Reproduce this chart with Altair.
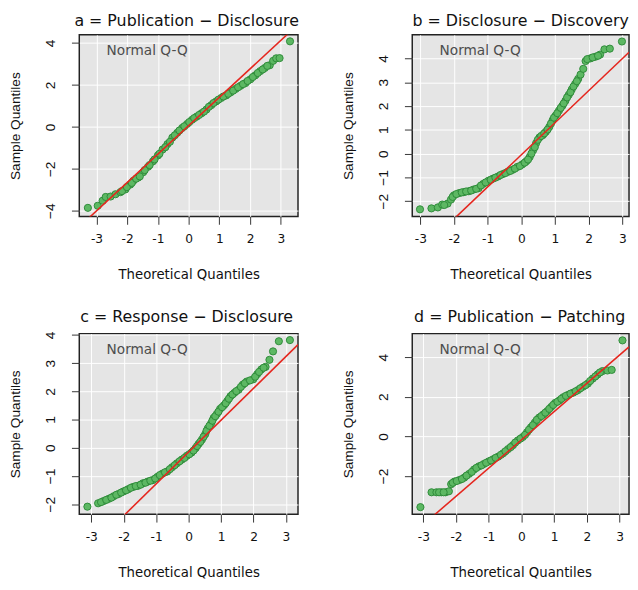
import altair as alt
import pandas as pd

# ---------------- data ----------------
TITLES = [
    "a = Publication \u2212 Disclosure",
    "b = Disclosure \u2212 Discovery",
    "c = Response \u2212 Disclosure",
    "d = Publication \u2212 Patching",
]
X_TITLE = "Theoretical Quantiles"
Y_TITLE = "Sample Quantiles"
INSET_LABEL = "Normal Q-Q"

# panel a
A_X = [-3.28, -2.96, -2.80, -2.70, -2.54, -2.38, -2.22, -2.06, -1.90, -1.80, -1.64, -1.48,
       -1.32, -1.16, -1.00, -0.85, -0.69, -0.53, -0.37, -0.21, -0.05, 0.11, 0.26, 0.42,
       0.58, 0.74, 0.90, 1.06, 1.22, 1.37, 1.53, 1.69, 1.85, 2.01, 2.17, 2.33, 2.48,
       2.64, 2.75, 2.85, 2.96, 3.30]
A_Y = [-3.86, -3.76, -3.52, -3.34, -3.32, -3.21, -3.11, -2.98, -2.75, -2.57, -2.41, -2.16,
       -1.90, -1.64, -1.36, -1.08, -0.82, -0.51, -0.28, -0.05, 0.14, 0.34, 0.49, 0.65,
       0.83, 1.04, 1.22, 1.38, 1.50, 1.65, 1.81, 1.96, 2.09, 2.27, 2.46, 2.66, 2.81,
       2.94, 3.15, 3.27, 3.28, 4.08]
A_BAND_X = [-2.17, -2.01, -1.85, -1.71, -1.59, -1.43, -1.27, -1.11, -0.95, -0.76, -0.61,
            -0.45, -0.30, -0.14, 0.02, 0.18, 0.34, 0.50, 0.66, 0.81, 0.97, 1.13, 1.29,
            1.45, 1.61, 1.77, 1.92, 2.09, 2.25, 2.41, 2.56]
A_BAND_Y = [-3.06, -2.87, -2.67, -2.47, -2.36, -2.06, -1.82, -1.55, -1.28, -0.97, -0.71,
            -0.40, -0.17, 0.03, 0.23, 0.42, 0.57, 0.73, 0.96, 1.14, 1.30, 1.45, 1.58,
            1.73, 1.89, 2.04, 2.19, 2.38, 2.57, 2.74, 2.91]

# panel b
B_X = [-3.01, -2.67, -2.48, -2.35, -2.19, -2.09, -2.00, -1.85, -1.71, -1.56, -1.42, -1.27,
       -1.13, -0.98, -0.84, -0.69, -0.55, -0.41, -0.26, -0.12, 0.03, 0.15, 0.25, 0.35,
       0.44, 0.54, 0.64, 0.73, 0.83, 0.93, 1.02, 1.12, 1.22, 1.31, 1.41, 1.50, 1.60,
       1.69, 1.76, 1.84, 1.91, 2.05, 2.20, 2.34, 2.47, 2.63, 2.99]
B_Y = [-2.34, -2.30, -2.26, -2.14, -2.10, -1.93, -1.75, -1.66, -1.62, -1.58, -1.51, -1.45,
       -1.27, -1.14, -1.05, -0.96, -0.86, -0.77, -0.68, -0.56, -0.45, -0.32, -0.14, 0.14,
       0.44, 0.68, 0.78, 0.92, 1.12, 1.40, 1.60, 1.81, 2.01, 2.22, 2.47, 2.70, 2.93,
       3.14, 3.32, 3.56, 3.89, 4.00, 4.07, 4.16, 4.38, 4.41, 4.71]
B_BAND_X = [-2.29, -2.04, -1.93, -1.77, -1.64, -1.49, -1.34, -1.20, -1.06, -0.91, -0.77,
            -0.62, -0.48, -0.33, -0.19, -0.04, 0.10, 0.20, 0.30, 0.40, 0.49, 0.59, 0.68,
            0.78, 0.88, 0.97, 1.07, 1.17, 1.26, 1.36, 1.46, 1.55, 1.65, 1.96, 2.12, 2.28]
B_BAND_Y = [-2.16, -1.82, -1.70, -1.63, -1.59, -1.55, -1.48, -1.34, -1.21, -1.10, -1.01,
            -0.90, -0.82, -0.73, -0.63, -0.52, -0.38, -0.25, 0.00, 0.27, 0.58, 0.74, 0.85,
            1.01, 1.26, 1.51, 1.70, 1.92, 2.11, 2.36, 2.58, 2.82, 3.04, 3.97, 4.04, 4.11]

# panel c
C_X = [-3.12, -2.79, -2.62, -2.46, -2.31, -2.16, -2.01, -1.86, -1.71, -1.56, -1.41, -1.26,
       -1.11, -0.96, -0.81, -0.66, -0.51, -0.36, -0.21, -0.06, 0.09, 0.21, 0.31, 0.41,
       0.51, 0.59, 0.69, 0.77, 0.87, 0.97, 1.09, 1.19, 1.29, 1.41, 1.54, 1.67, 1.79,
       1.99, 2.11, 2.24, 2.37, 2.49, 2.60, 2.78, 3.12]
C_Y = [-2.09, -1.97, -1.89, -1.81, -1.72, -1.64, -1.55, -1.47, -1.39, -1.35, -1.26, -1.20,
       -1.15, -1.03, -0.92, -0.84, -0.69, -0.55, -0.42, -0.29, -0.17, -0.02, 0.14, 0.29,
       0.48, 0.69, 0.86, 1.06, 1.20, 1.38, 1.51, 1.66, 1.83, 1.95, 2.06, 2.24, 2.35,
       2.43, 2.61, 2.78, 2.87, 3.12, 3.42, 3.78, 3.82]
C_BAND_X = [-2.70, -2.54, -2.38, -2.23, -2.08, -1.93, -1.78, -1.63, -1.48, -1.33, -1.18,
            -1.03, -0.89, -0.73, -0.58, -0.43, -0.28, -0.13, 0.02, 0.15, 0.26, 0.36, 0.46,
            0.55, 0.64, 0.73, 0.82, 0.92, 1.03, 1.14, 1.24, 1.35, 1.47, 1.61, 1.73, 1.89,
            2.05, 2.17, 2.31]
C_BAND_Y = [-1.93, -1.85, -1.77, -1.67, -1.59, -1.51, -1.42, -1.36, -1.31, -1.24, -1.17,
            -1.09, -0.97, -0.87, -0.76, -0.62, -0.48, -0.36, -0.23, -0.10, 0.06, 0.21, 0.39,
            0.60, 0.78, 0.96, 1.12, 1.28, 1.44, 1.58, 1.74, 1.89, 2.01, 2.16, 2.29, 2.39,
            2.52, 2.69, 2.84]

# panel d
D_X = [-3.09, -2.75, -2.60, -2.45, -2.32, -2.22, -2.15, -2.05, -1.90, -1.75, -1.60, -1.45,
       -1.30, -1.15, -1.00, -0.86, -0.71, -0.56, -0.41, -0.26, -0.11, 0.04, 0.17, 0.29,
       0.41, 0.54, 0.67, 0.79, 0.91, 1.03, 1.16, 1.28, 1.43, 1.58, 1.73, 1.88, 2.03,
       2.18, 2.33, 2.48, 2.63, 2.76, 3.09]
D_Y = [-3.57, -2.82, -2.82, -2.82, -2.82, -2.77, -2.41, -2.28, -2.20, -2.08, -1.89, -1.67,
       -1.51, -1.39, -1.26, -1.15, -1.02, -0.85, -0.64, -0.44, -0.20, -0.03, 0.21, 0.46,
       0.70, 0.95, 1.11, 1.28, 1.49, 1.69, 1.82, 1.98, 2.10, 2.21, 2.34, 2.51, 2.67,
       2.92, 3.13, 3.30, 3.33, 3.36, 4.85]
D_BAND_X = [-2.52, -2.38, -2.10, -1.98, -1.82, -1.68, -1.52, -1.38, -1.22, -1.08, -0.93,
            -0.79, -0.63, -0.49, -0.33, -0.19, -0.03, 0.11, 0.23, 0.35, 0.47, 0.61, 0.73,
            0.85, 0.97, 1.10, 1.22, 1.36, 1.50, 1.66, 1.80, 1.96, 2.10, 2.26, 2.40]
D_BAND_Y = [-2.82, -2.82, -2.34, -2.25, -2.15, -1.98, -1.79, -1.59, -1.46, -1.33, -1.21,
            -1.08, -0.93, -0.75, -0.54, -0.31, -0.11, 0.08, 0.34, 0.57, 0.84, 1.03, 1.20,
            1.39, 1.59, 1.75, 1.90, 2.05, 2.16, 2.28, 2.43, 2.59, 2.80, 3.03, 3.23]

# reference line (intercept, slope) of each panel
LINES = [(0.06, 1.355), (-0.05, 1.347), (-0.15, 1.13), (-0.17, 1.425)]

X_TICKS = [-3, -2, -1, 0, 1, 2, 3]
Y_TICKS = [[-4, -2, 0, 2, 4], [-2, -1, 0, 1, 2, 3, 4], [-2, -1, 0, 1, 2, 3, 4], [-2, 0, 2, 4]]

X_DOMAINS = [[-3.56, 3.56], [-3.24, 3.20], [-3.37, 3.37], [-3.34, 3.29]]
Y_DOMAINS = [[-4.27, 4.39], [-2.64, 4.99], [-2.36, 4.05], [-3.93, 5.19]]
SIZES = [(224, 186), (222, 186), (224, 185), (222, 185)]
TITLE_X = [110, 111, 110, 110]
TITLE_Y = [-9, -9, -11.5, -11.5]
COL_SPACING = 117
ROW_SPACING = 120

# ---------------- style ----------------
PT_FILL = "#5DB863"
PT_STROKE = "#2E8B3A"
LINE_COLOR = "#E5261E"
BG = "#E5E5E5"
H_FONT = "DejaVu Sans"
V_FONT = "Liberation Sans"


def axes(i):
    xaxis = alt.Axis(
        values=X_TICKS, title=X_TITLE, grid=True, gridColor="#FFFFFF", gridWidth=1,
        domain=False, tickSize=8, tickColor="#333333", tickWidth=1,
        labelFont=H_FONT, labelFontSize=12.5, labelColor="#111111", labelPadding=9,
        labelFlush=False, labelOverlap=False,
        labelExpr="datum.value < 0 ? '-' + abs(datum.value) : datum.label",
        titleFont=H_FONT, titleFontSize=13.6, titleFontWeight="normal", titleColor="#111111",
        titleY=64, titleBaseline="alphabetic",
    )
    yaxis = alt.Axis(
        values=Y_TICKS[i], title=Y_TITLE, grid=True, gridColor="#FFFFFF", gridWidth=1,
        domain=False, tickSize=8, tickColor="#333333", tickWidth=1,
        labelAngle=270, labelAlign="center", labelBaseline="bottom",
        labelFont=V_FONT, labelFontSize=14, labelColor="#111111", labelPadding=14,
        labelFlush=False, labelOverlap=False,
        titleFont=V_FONT, titleFontSize=14, titleFontWeight="normal", titleColor="#111111",
        titleAngle=270, titleX=-61, titleBaseline="alphabetic",
    )
    return xaxis, yaxis


def panel(i, xs, ys):
    xdom, ydom = X_DOMAINS[i], Y_DOMAINS[i]
    w, h = SIZES[i]
    xsc = alt.Scale(domain=xdom, nice=False, zero=False)
    ysc = alt.Scale(domain=ydom, nice=False, zero=False)
    xaxis, yaxis = axes(i)

    df = pd.DataFrame({"x": xs, "y": ys})
    pts = alt.Chart(df).mark_circle(
        size=54, fill=PT_FILL, stroke=PT_STROKE, strokeWidth=1, opacity=1
    ).encode(x=alt.X("x:Q", scale=xsc, axis=xaxis), y=alt.Y("y:Q", scale=ysc, axis=yaxis))

    b0, b1 = LINES[i]
    ldf = pd.DataFrame({"x": xdom, "y": [b0 + b1 * xdom[0], b0 + b1 * xdom[1]]})
    line = alt.Chart(ldf).mark_line(color=LINE_COLOR, strokeWidth=1.6, clip=True).encode(
        x=alt.X("x:Q", scale=xsc, axis=xaxis), y=alt.Y("y:Q", scale=ysc, axis=yaxis)
    )
    tdf = pd.DataFrame({"t": [INSET_LABEL]})
    txt = alt.Chart(tdf).mark_text(
        align="left", baseline="middle", font=H_FONT, fontSize=14, color="#4D4D4D"
    ).encode(x=alt.value(28), y=alt.value(17), text="t:N")

    hdf = pd.DataFrame({"t": [TITLES[i]]})
    head = alt.Chart(hdf).mark_text(
        align="center", baseline="alphabetic", font=H_FONT, fontSize=16.2, color="#111111"
    ).encode(x=alt.value(TITLE_X[i]), y=alt.value(TITLE_Y[i]), text="t:N")

    return alt.layer(pts, line, txt, head).properties(width=w, height=h)


panels = [
    panel(0, A_X + A_BAND_X, A_Y + A_BAND_Y),
    panel(1, B_X + B_BAND_X, B_Y + B_BAND_Y),
    panel(2, C_X + C_BAND_X, C_Y + C_BAND_Y),
    panel(3, D_X + D_BAND_X, D_Y + D_BAND_Y),
]

chart = alt.concat(
    *panels, columns=2, spacing={"row": ROW_SPACING, "column": COL_SPACING}, bounds="flush",
).properties(
    padding={"top": -2.5, "left": 0, "right": 0, "bottom": 0}
).configure_view(fill=BG, stroke="#222222", strokeWidth=1.5)

chart.save("out.html", embed_options={"renderer": "svg", "actions": False})
